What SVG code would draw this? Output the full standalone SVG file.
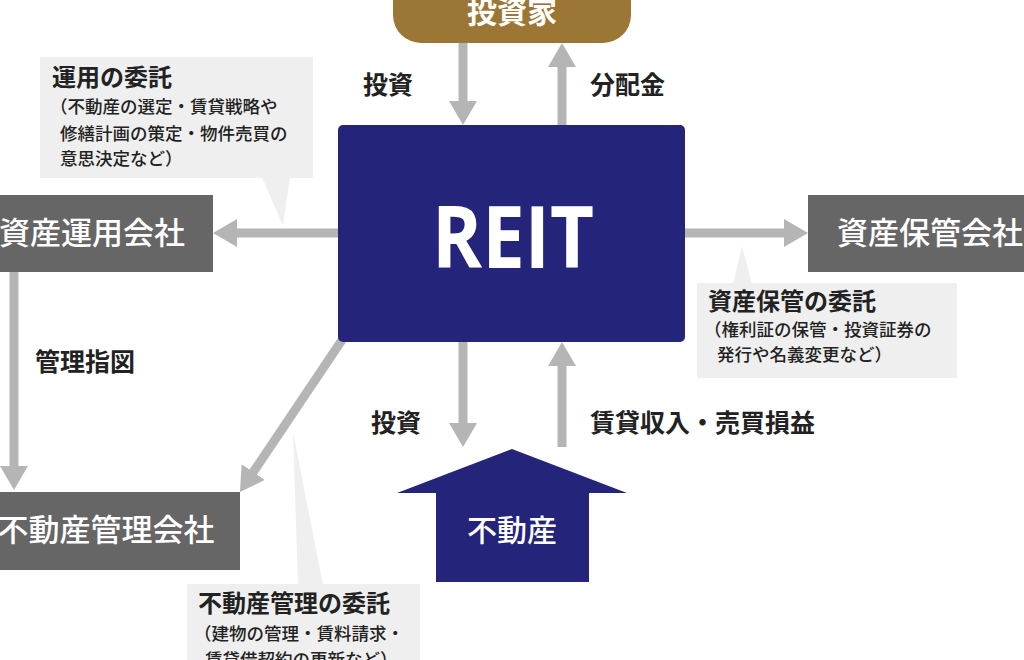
<svg xmlns="http://www.w3.org/2000/svg" width="1024" height="660" viewBox="0 0 1024 660">
<style>
.lbl{font-family:"Noto Sans CJK JP","Noto Sans",sans-serif;font-weight:700;font-size:25px;fill:#222}
.box{fill:#666666}
.boxt{font-family:"Noto Sans CJK JP","Noto Sans",sans-serif;font-weight:500;font-size:31px;fill:#fff}
.call{fill:#efefef}
.ct{font-family:"Noto Sans CJK JP","Noto Sans",sans-serif;font-weight:700;font-size:24px;fill:#222}
.cs{font-family:"Noto Sans CJK JP","Noto Sans",sans-serif;font-weight:500;font-size:17.5px;fill:#222}
.arr{stroke:#b5b5b5;stroke-width:9;fill:none}
</style>
<defs>
<marker id="ah" viewBox="0 0 24 28" refX="9" refY="14" markerWidth="24" markerHeight="28" markerUnits="userSpaceOnUse" orient="auto">
<path d="M0,0 L24,14 L0,28 Z" fill="#b5b5b5"/>
</marker>
</defs>
<rect width="1024" height="660" fill="#fff"/>

<g id="callout-unyou">
<rect class="call" x="40" y="57" width="273" height="121"/>
<polygon class="call" points="262,177 290,177 283,226"/>
<text class="ct" x="52" y="86">運用の委託</text>
<text class="cs" x="50" y="113">（不動産の選定・賃貸戦略や</text>
<text class="cs" x="60" y="140">修繕計画の策定・物件売買の</text>
<text class="cs" x="60" y="165">意思決定など）</text>
</g>

<g id="callout-hokan">
<rect class="call" x="697" y="283" width="260" height="95"/>
<polygon class="call" points="733,284 752,284 742,246"/>
<text class="ct" x="708" y="310">資産保管の委託</text>
<text class="cs" x="704" y="336">（権利証の保管・投資証券の</text>
<text class="cs" x="717" y="361">発行や名義変更など）</text>
</g>

<g id="callout-kanri">
<rect class="call" x="187" y="584" width="233" height="90"/>
<polygon class="call" points="293,432 298,585 323,585"/>
<text class="ct" x="198" y="612">不動産管理の委託</text>
<text class="cs" x="194" y="640">（建物の管理・賃料請求・</text>
<text class="cs" x="205" y="666">賃貸借契約の更新など）</text>
</g>

<g id="connectors">
<line class="arr" x1="463" y1="43" x2="463" y2="110" marker-end="url(#ah)"/>
<line class="arr" x1="562" y1="125" x2="562" y2="58" marker-end="url(#ah)"/>
<line class="arr" x1="338" y1="233" x2="228" y2="233" marker-end="url(#ah)"/>
<line class="arr" x1="685" y1="233" x2="793" y2="233" marker-end="url(#ah)"/>
<line class="arr" x1="14" y1="272" x2="14" y2="475" marker-end="url(#ah)"/>
<line class="arr" x1="342" y1="340" x2="248.3" y2="479.5" marker-end="url(#ah)"/>
<line class="arr" x1="463" y1="342" x2="463" y2="432" marker-end="url(#ah)"/>
<line class="arr" x1="562" y1="447" x2="562" y2="357" marker-end="url(#ah)"/>
<text class="lbl" x="388" y="94" text-anchor="middle">投資</text>
<text class="lbl" x="590" y="94">分配金</text>
<text class="lbl" x="35" y="371">管理指図</text>
<text class="lbl" x="396" y="432" text-anchor="middle">投資</text>
<text class="lbl" x="590" y="432">賃貸収入・売買損益</text>
</g>

<g id="investor">
<rect x="393" y="-40" width="238" height="83" rx="28" fill="#9c7634"/>
<text x="512" y="23" text-anchor="middle" font-family="'Noto Sans CJK JP',sans-serif" font-weight="700" font-size="30" fill="#fff">投資家</text>
</g>

<g id="reit">
<rect x="338" y="125" width="347" height="217" rx="5" fill="#23247a"/>
<text x="513" y="268" text-anchor="middle" font-family="'Open Sans','Noto Sans',sans-serif" font-weight="700" font-size="86" fill="#fff" textLength="162" lengthAdjust="spacingAndGlyphs">REIT</text>
</g>

<g id="asset-mgmt">
<rect class="box" x="-5" y="195" width="218" height="77"/>
<text class="boxt" x="92" y="244" text-anchor="middle">資産運用会社</text>
</g>

<g id="custodian">
<rect class="box" x="808" y="195" width="230" height="77"/>
<text class="boxt" x="837" y="244">資産保管会社</text>
</g>

<g id="pm">
<rect class="box" x="-5" y="492" width="245" height="78"/>
<text class="boxt" x="106" y="541" text-anchor="middle">不動産管理会社</text>
</g>

<g id="realestate">
<polygon points="512,449 627,493 589,493 589,582 436,582 436,493 397,493" fill="#23247a"/>
<text x="512" y="541" text-anchor="middle" font-family="'Noto Sans CJK JP',sans-serif" font-weight="500" font-size="30" fill="#fff">不動産</text>
</g>
</svg>
